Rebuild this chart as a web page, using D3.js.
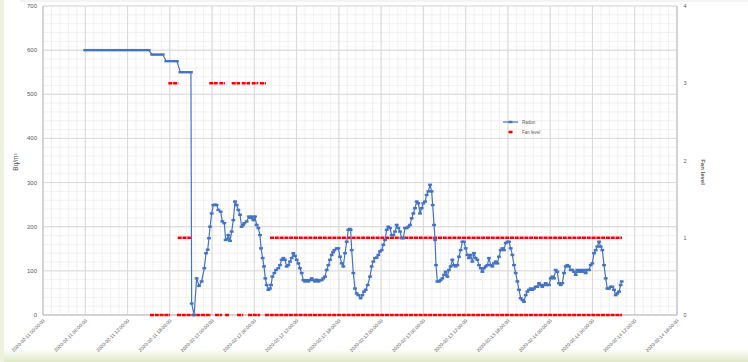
<!DOCTYPE html>
<html>
<head>
<meta charset="utf-8">
<script src="https://cdn.jsdelivr.net/npm/d3@7"></script>
<style>
    body { margin: 0; background: #fff; }
    svg { display: block; font-family: "Liberation Sans", Arial, sans-serif; }
</style>
</head>
<body>
<div id="chart"></div>
<script>
// Radon (Bq/m3), time in hours after 2020-02-11 00:00:00
const radonHours = [6, 6.5, 7, 7.5, 8, 8.5, 9, 9.5, 10, 10.5, 11, 11.5, 12, 12.5, 13, 13.5, 14, 14.5, 15,
    15.5, 16, 16.5, 17, 17.5, 18, 18.5, 19, 19.5, 20, 20.5, 21, 21.1, 21.45,
    21.81, 22.15, 22.52, 22.9, 23.14, 23.38, 23.56, 23.71, 23.94, 24.18, 24.42, 24.65, 24.89, 25.22, 25.46, 25.74,
    25.93, 26.12, 26.31, 26.55, 26.78, 27.02, 27.26, 27.49, 27.73, 27.97, 28.2, 28.4, 28.58, 28.91, 29.24, 29.45,
    29.62, 29.86, 30.09, 30.33, 30.57, 30.8, 30.95, 31.18, 31.37, 31.56, 31.75, 31.99, 32.22, 32.37, 32.56, 32.84,
    33.08, 33.41, 33.64, 33.88, 34.12, 34.35, 34.59, 34.83, 35.06, 35.3, 35.54, 35.77, 36.01, 36.25, 36.48, 36.72,
    36.96, 37.19, 37.43, 37.66, 37.9, 38.14, 38.38, 38.61, 38.85, 39.09, 39.32, 39.56, 39.79, 40.03, 40.27, 40.51,
    40.74, 40.98, 41.17, 41.36, 41.69, 41.93, 42.16, 42.4, 42.63, 42.87, 43.11, 43.34, 43.55, 43.67, 43.82, 44.05,
    44.29, 44.53, 44.76, 45.09, 45.33, 45.57, 45.81, 46.09, 46.42, 46.66, 46.89, 47.13, 47.37, 47.6, 47.84, 48.08,
    48.31, 48.55, 48.79, 49.02, 49.26, 49.5, 49.73, 49.97, 50.21, 50.44, 50.68, 50.92, 51.15, 51.39, 51.63, 51.86,
    52.1, 52.34, 52.57, 52.81, 53.05, 53.28, 53.52, 53.75, 53.99, 54.23, 54.46, 54.7, 54.94, 55.17, 55.32, 55.51,
    55.65, 55.79, 55.98, 56.22, 56.45, 56.69, 56.93, 57.16, 57.4, 57.63, 57.87, 58.11, 58.34, 58.58, 58.82, 59.05,
    59.29, 59.53, 59.76, 60, 60.24, 60.47, 60.71, 60.95, 61.18, 61.42, 61.66, 61.89, 62.13, 62.37, 62.6, 62.84,
    63.08, 63.31, 63.55, 63.79, 64.02, 64.26, 64.5, 64.73, 64.97, 65.21, 65.44, 65.68, 65.92, 66.15, 66.39, 66.63,
    66.86, 67.1, 67.34, 67.57, 67.81, 68.05, 68.28, 68.52, 68.76, 68.99, 69.23, 69.46, 69.7, 69.94, 70.17, 70.41,
    70.65, 70.88, 71.12, 71.36, 71.59, 71.83, 72.07, 72.3, 72.54, 72.78, 73.01, 73.25, 73.49, 73.72, 73.96, 74.2,
    74.43, 74.67, 74.91, 75.14, 75.38, 75.62, 75.85, 76.09, 76.33, 76.56, 76.8, 77.04, 77.27, 77.51, 77.75, 77.98,
    78.22, 78.46, 78.69, 78.93, 79.17, 79.4, 79.64, 79.88, 80.11, 80.35, 80.59, 80.82, 81.06, 81.3, 81.53, 81.77,
    82, 82.15];
const radonValues = [600, 600, 600, 600, 600, 600, 600, 600, 600, 600, 600, 600, 600, 600, 600, 600, 600, 600, 600,
    590, 590, 590, 590, 575, 575, 575, 575, 550, 550, 550, 550, 26, 0,
    83, 66, 76, 106, 140, 148, 174, 200, 230, 249, 250, 249, 238, 234, 212, 208,
    170, 172, 181, 168, 189, 215, 257, 249, 238, 227, 200, 204, 208, 212, 223, 220,
    223, 215, 223, 204, 197, 181, 151, 129, 110, 83, 68, 57, 60, 68, 87, 95,
    102, 106, 113, 125, 129, 125, 110, 113, 121, 129, 140, 134, 125, 117, 106, 95,
    79, 76, 79, 76, 79, 83, 79, 76, 80, 76, 79, 79, 83, 87, 102, 113,
    125, 136, 142, 147, 151, 151, 132, 117, 110, 140, 166, 193, 195, 193, 147, 95,
    60, 49, 45, 38, 45, 53, 57, 68, 87, 110, 121, 129, 130, 136, 144, 147,
    159, 170, 193, 200, 197, 181, 181, 189, 204, 197, 189, 174, 174, 197, 197, 200,
    204, 219, 230, 242, 257, 253, 230, 242, 253, 257, 272, 280, 295, 280, 249, 204,
    170, 113, 76, 76, 79, 83, 91, 98, 87, 102, 110, 125, 113, 110, 113, 132,
    147, 166, 166, 151, 136, 129, 136, 121, 140, 129, 125, 113, 106, 98, 106, 110,
    113, 129, 113, 110, 117, 121, 117, 132, 147, 151, 147, 163, 166, 166, 151, 136,
    113, 95, 76, 57, 38, 34, 30, 45, 53, 57, 60, 57, 60, 64, 64, 72,
    68, 64, 68, 72, 68, 68, 83, 87, 83, 102, 98, 72, 68, 72, 95, 110,
    113, 110, 102, 102, 98, 91, 102, 98, 102, 98, 102, 95, 102, 102, 113, 117,
    140, 147, 155, 166, 155, 147, 113, 83, 60, 60, 64, 64, 57, 45, 49, 53,
    68, 76];

// Fan level runs: start hour, end hour, level
const fanStart = [17.79, 23.6, 25.03, 26.79, 28.21, 29.63, 30.8, 19.12, 32.22,
    15.19, 19.02, 24.42, 25.84, 27.54, 29.1, 31.51];
const fanEnd = [19.2, 24.8, 25.84, 27.97, 29.39, 30.56, 31.66, 21.0, 82.2,
    18.03, 23.85, 25.41, 26.4, 28.39, 30.8, 82.2];
const fanLevels = [3, 3, 3, 3, 3, 3, 3, 1, 1,
    0, 0, 0, 0, 0, 0, 0];

// Axes
const xTickHours = [0, 6, 12, 18, 24, 30, 36, 42, 48, 54, 60, 66, 72, 78, 84, 90];
const xTickLabels = ['2020-02-11 00:00:00', '2020-02-11 06:00:00', '2020-02-11 12:00:00', '2020-02-11 18:00:00',
    '2020-02-12 00:00:00', '2020-02-12 06:00:00', '2020-02-12 12:00:00', '2020-02-12 18:00:00',
    '2020-02-13 00:00:00', '2020-02-13 06:00:00', '2020-02-13 12:00:00', '2020-02-13 18:00:00',
    '2020-02-14 00:00:00', '2020-02-14 06:00:00', '2020-02-14 12:00:00', '2020-02-14 18:00:00'];
const radonTicks = [0, 100, 200, 300, 400, 500, 600, 700];
const fanTicks = [0, 1, 2, 3, 4];

const width = 748, height = 362;
const blue = '#4472c4', red = '#ff0000', textColor = '#595959';

const svg = d3.select('#chart').append('svg')
    .attr('width', width)
    .attr('height', height);

// Page-ish frame
const defs = svg.append('defs');
const grad = defs.append('linearGradient').attr('id', 'bottomFade')
    .attr('x1', 0).attr('y1', 0).attr('x2', 0).attr('y2', 1);
grad.append('stop').attr('offset', '0%').attr('stop-color', '#ffffff');
grad.append('stop').attr('offset', '100%').attr('stop-color', '#dfe8c6');
svg.append('rect').attr('x', 0).attr('y', 349).attr('width', width).attr('height', 13).attr('fill', 'url(#bottomFade)');
svg.append('rect').attr('x', 0).attr('y', 0).attr('width', 4).attr('height', height).attr('fill', '#eef2dc');
svg.append('line').attr('x1', 20).attr('x2', width).attr('y1', 1).attr('y2', 1)
    .attr('stroke', '#e8e8e8').attr('stroke-width', 1);

const x = d3.scaleLinear().domain([0, 90]).range([43, 677]);
const y = d3.scaleLinear().domain([0, 700]).range([315, 6]);
const y2 = d3.scaleLinear().domain([0, 4]).range([315, 6]);

// Minor gridlines
const grid = svg.append('g');
grid.selectAll('line.minor-x')
    .data(d3.range(0, 90.01, 1.2))
    .join('line')
    .attr('x1', d => x(d)).attr('x2', d => x(d))
    .attr('y1', y(0)).attr('y2', y(700))
    .attr('stroke', '#eeeeee').attr('stroke-width', 0.8);
grid.selectAll('line.minor-y')
    .data(d3.range(0, 700.1, 20))
    .join('line')
    .attr('x1', x(0)).attr('x2', x(90))
    .attr('y1', d => y(d)).attr('y2', d => y(d))
    .attr('stroke', '#eeeeee').attr('stroke-width', 0.8);

// Major gridlines
grid.selectAll('line.major-x')
    .data(xTickHours)
    .join('line')
    .attr('x1', d => x(d)).attr('x2', d => x(d))
    .attr('y1', y(0)).attr('y2', y(700))
    .attr('stroke', '#d9d9d9').attr('stroke-width', 1);
grid.selectAll('line.major-y')
    .data(radonTicks)
    .join('line')
    .attr('x1', x(0)).attr('x2', x(90))
    .attr('y1', d => y(d)).attr('y2', d => y(d))
    .attr('stroke', '#d9d9d9').attr('stroke-width', 1);

// Axis lines
svg.append('line').attr('x1', x(0)).attr('x2', x(0)).attr('y1', y(0)).attr('y2', y(700))
    .attr('stroke', '#bfbfbf');
svg.append('line').attr('x1', x(90)).attr('x2', x(90)).attr('y1', y(0)).attr('y2', y(700))
    .attr('stroke', '#bfbfbf');
svg.append('line').attr('x1', x(0)).attr('x2', x(90)).attr('y1', y(0)).attr('y2', y(0))
    .attr('stroke', '#bfbfbf');

// Left axis labels
svg.append('g').selectAll('text')
    .data(radonTicks)
    .join('text')
    .attr('x', 37)
    .attr('y', d => y(d) + 2)
    .attr('text-anchor', 'end')
    .attr('font-size', 6)
    .attr('fill', textColor)
    .text(d => d);

// Right axis labels
svg.append('g').selectAll('text')
    .data(fanTicks)
    .join('text')
    .attr('x', 685)
    .attr('y', d => y2(d) + 2)
    .attr('text-anchor', 'middle')
    .attr('font-size', 5.5)
    .attr('fill', textColor)
    .text(d => d);

// X labels
svg.append('g').selectAll('text')
    .data(xTickHours)
    .join('text')
    .attr('transform', d => `translate(${x(d) + 2},${321}) rotate(-45)`)
    .attr('text-anchor', 'end')
    .attr('font-size', 4.8)
    .attr('fill', textColor)
    .text((d, i) => xTickLabels[i]);

// Axis titles
svg.append('text')
    .attr('transform', 'translate(18,162) rotate(-90)')
    .attr('text-anchor', 'middle')
    .attr('font-size', 6.5)
    .attr('fill', textColor)
    .text('Bq/m³');
svg.append('text')
    .attr('transform', 'translate(701,172) rotate(90)')
    .attr('text-anchor', 'middle')
    .attr('font-size', 6)
    .attr('font-weight', 'bold')
    .attr('fill', textColor)
    .text('Fan level');

// Fan level (red dash markers)
svg.append('g').selectAll('line')
    .data(fanLevels)
    .join('line')
    .attr('x1', (d, i) => x(fanStart[i]))
    .attr('x2', (d, i) => x(fanEnd[i]))
    .attr('y1', d => y2(d))
    .attr('y2', d => y2(d))
    .attr('stroke', red)
    .attr('stroke-width', 2.6)
    .attr('stroke-dasharray', '4,0.8');

// Radon line + dash markers
const radon = radonHours.map((h, i) => [h, radonValues[i]]);
svg.append('path')
    .datum(radon)
    .attr('fill', 'none')
    .attr('stroke', blue)
    .attr('stroke-width', 1.2)
    .attr('d', d3.line().x(d => x(d[0])).y(d => y(d[1])));
svg.append('g').selectAll('rect')
    .data(radon)
    .join('rect')
    .attr('x', d => x(d[0]) - 1.9)
    .attr('y', d => y(d[1]) - 1.2)
    .attr('width', 3.8)
    .attr('height', 2.4)
    .attr('fill', blue);

// Legend
const legend = svg.append('g');
legend.append('line').attr('x1', 503).attr('x2', 518).attr('y1', 122).attr('y2', 122)
    .attr('stroke', blue).attr('stroke-width', 1.2);
legend.append('rect').attr('x', 508.6).attr('y', 120.8).attr('width', 3.8).attr('height', 2.4).attr('fill', blue);
legend.append('text').attr('x', 522).attr('y', 123.6).attr('font-size', 4.5).attr('fill', textColor).text('Radon');
legend.append('line').attr('x1', 508.5).attr('x2', 512.5).attr('y1', 132).attr('y2', 132)
    .attr('stroke', red).attr('stroke-width', 2.6);
legend.append('text').attr('x', 522).attr('y', 133.6).attr('font-size', 4.5).attr('fill', textColor).text('Fan level');
</script>
</body>
</html>
